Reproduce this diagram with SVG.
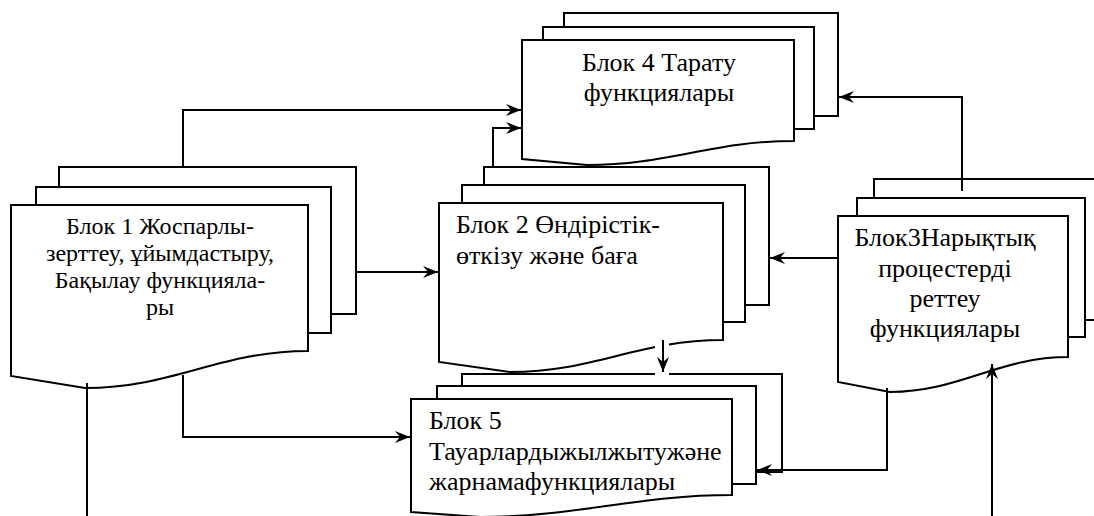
<svg xmlns="http://www.w3.org/2000/svg" width="1094" height="516" viewBox="0 0 1094 516">
<defs>
<marker id="ah" markerUnits="userSpaceOnUse" markerWidth="16" markerHeight="12" refX="15" refY="6" orient="auto">
<path d="M0,0 L15,6 L0,12 L5,6 Z" fill="#000"/>
</marker>
</defs>
<rect width="1094" height="516" fill="#fff"/>

<g id="nodes" fill="#fff" stroke="#000" stroke-width="2">
<g id="block4">
<rect x="564" y="13" width="274" height="103"/>
<rect x="543" y="27" width="271" height="102"/>
<path d="M522,40 H794 V141 C712,141 669,165 587,165 L522,159 Z"/>
<g fill="#000" stroke="none" font-family="Liberation Serif" font-size="26" text-anchor="middle">
<text x="659" y="71">Блок 4 Тарату</text>
<text x="659" y="101">функциялары</text>
</g>
</g>

<g id="block1">
<rect x="59" y="167" width="297" height="147"/>
<rect x="36" y="187" width="295" height="146"/>
<path d="M11,205 H308 V351 C219,351 174,388 85,388 L11,376 Z"/>
<g fill="#000" stroke="none" font-family="Liberation Serif" font-size="24" text-anchor="middle">
<text x="160" y="234">Блок 1 Жоспарлы-</text>
<text x="160" y="261">зерттеу, ұйымдастыру,</text>
<text x="160" y="288">Бақылау функцияла-</text>
<text x="160" y="315">ры</text>
</g>
</g>

<g id="block2">
<rect x="484" y="167" width="285" height="138"/>
<rect x="462" y="185" width="283" height="137"/>
<path d="M439,203 H723 V340 C638,340 595,372 510,372 L439,362 Z"/>
<g fill="#000" stroke="none" font-family="Liberation Serif" font-size="26">
<text x="456" y="233">Блок 2 Өндірістік-</text>
<text x="456" y="264">өткізу және баға</text>
</g>
</g>

<g id="block3">
<rect x="874" y="179" width="240" height="141"/>
<rect x="857" y="198" width="228" height="139"/>
<path d="M838,216 H1068 V357 C999,357 959,392 890,392 L838,382 Z"/>
<g fill="#000" stroke="none" font-family="Liberation Serif" font-size="26" text-anchor="middle">
<text x="945" y="246">Блок3Нарықтық</text>
<text x="945" y="277">процестерді</text>
<text x="945" y="307">реттеу</text>
<text x="945" y="337">функциялары</text>
</g>
</g>

<g id="block5">
<rect x="462" y="374" width="320" height="98"/>
<rect x="437" y="386" width="319" height="98"/>
<path d="M411,399 H732 V495 C636,495 576,517 480,517 L411,512 Z"/>
<g fill="#000" stroke="none" font-family="Liberation Serif" font-size="26">
<text x="429" y="429">Блок 5</text>
<text x="429" y="460">Тауарлардыжылжытужәне</text>
<text x="429" y="490">жарнамафункциялары</text>
</g>
</g>
</g>

<g id="connectors" fill="none" stroke="#000" stroke-width="2">
<rect x="655" y="341" width="14" height="34" fill="#fff" stroke="none"/>
<path d="M183,167 V110 H521" marker-end="url(#ah)"/>
<path d="M493,167 V128 H521" marker-end="url(#ah)"/>
<path d="M356,272 H438" marker-end="url(#ah)"/>
<path d="M962,191 V97 H839" marker-end="url(#ah)"/>
<path d="M838,258 H770" marker-end="url(#ah)"/>
<path d="M663,340 V372" marker-end="url(#ah)"/>
<path d="M183,375 V437 H410" marker-end="url(#ah)"/>
<path d="M887,388 V470 H757" marker-end="url(#ah)"/>
<path d="M992,516 V364" marker-end="url(#ah)"/>
<path d="M87,383 V516"/>
</g>
</svg>
